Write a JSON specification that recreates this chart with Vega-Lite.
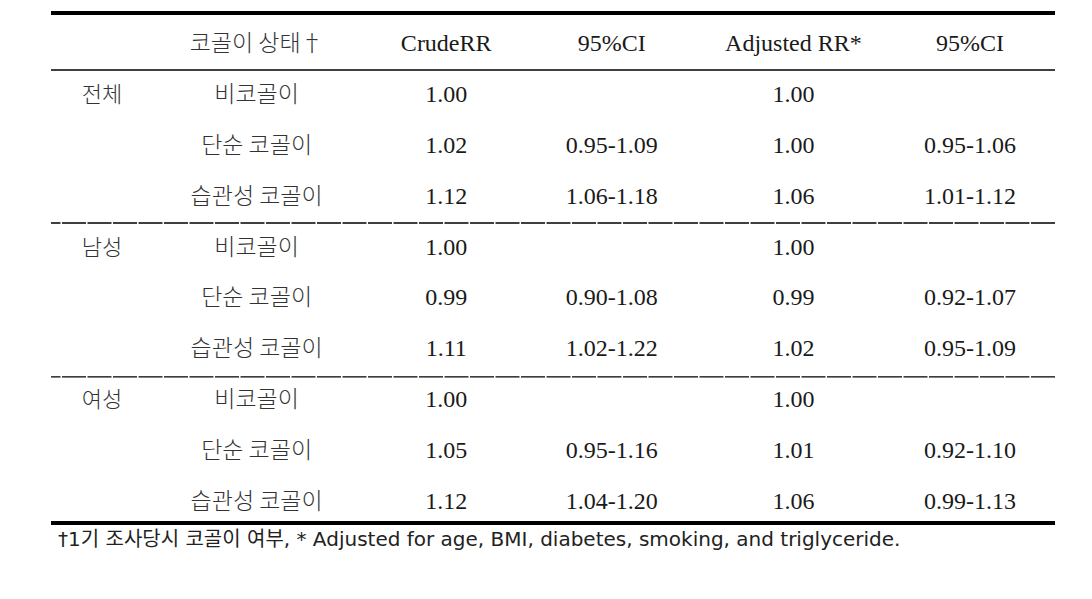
{
  "$schema": "https://vega.github.io/schema/vega-lite/v6.json",
  "width": 1004,
  "height": 510,
  "padding": {"left": 49, "top": 11, "right": 39, "bottom": 20},
  "background": "white",
  "config": {"view": {"stroke": null}},
  "title": {
    "text": "†1기 조사당시 코골이 여부, * Adjusted for age, BMI, diabetes, smoking, and triglyceride.",
    "orient": "bottom",
    "anchor": "start",
    "offset": 5,
    "dx": 9,
    "font": "DejaVu Sans, Noto Sans CJK KR",
    "fontSize": 20,
    "fontWeight": "normal",
    "color": "#222"
  },
  "datasets": {
    "table": [
      {"r": 0, "group": "", "status": "코골이 상태†", "crude": "CrudeRR", "ci1": "95%CI", "adj": "Adjusted RR*", "ci2": "95%CI"},
      {"r": 1, "group": "전체", "status": "비코골이", "crude": "1.00", "ci1": "", "adj": "1.00", "ci2": ""},
      {"r": 2, "group": "", "status": "단순 코골이", "crude": "1.02", "ci1": "0.95-1.09", "adj": "1.00", "ci2": "0.95-1.06"},
      {"r": 3, "group": "", "status": "습관성 코골이", "crude": "1.12", "ci1": "1.06-1.18", "adj": "1.06", "ci2": "1.01-1.12"},
      {"r": 4, "group": "남성", "status": "비코골이", "crude": "1.00", "ci1": "", "adj": "1.00", "ci2": ""},
      {"r": 5, "group": "", "status": "단순 코골이", "crude": "0.99", "ci1": "0.90-1.08", "adj": "0.99", "ci2": "0.92-1.07"},
      {"r": 6, "group": "", "status": "습관성 코골이", "crude": "1.11", "ci1": "1.02-1.22", "adj": "1.02", "ci2": "0.95-1.09"},
      {"r": 7, "group": "여성", "status": "비코골이", "crude": "1.00", "ci1": "", "adj": "1.00", "ci2": ""},
      {"r": 8, "group": "", "status": "단순 코골이", "crude": "1.05", "ci1": "0.95-1.16", "adj": "1.01", "ci2": "0.92-1.10"},
      {"r": 9, "group": "", "status": "습관성 코골이", "crude": "1.12", "ci1": "1.04-1.20", "adj": "1.06", "ci2": "0.99-1.13"}
    ]
  },
  "encoding": {
    "x": {
      "field": "col",
      "type": "nominal",
      "scale": {"type": "point", "domain": ["group", "status", "crude", "ci1", "adj", "ci2"], "padding": 0.3917, "align": 0.375},
      "axis": null
    },
    "y": {
      "field": "r",
      "type": "quantitative",
      "scale": {"domain": [-0.609, 9.411], "reverse": true, "nice": false, "zero": false},
      "axis": null
    },
    "text": {"field": "text"}
  },
  "layer": [
    {
      "data": {"name": "table"},
      "transform": [
        {"fold": ["group", "status", "crude", "ci1", "adj", "ci2"], "as": ["col", "text"]},
        {"filter": "datum.col === 'group'"}
      ],
      "mark": {"type": "text", "font": "Noto Sans CJK KR", "fontSize": 22, "fontWeight": 300, "color": "#333", "baseline": "middle"}
    },
    {
      "data": {"name": "table"},
      "transform": [
        {"fold": ["group", "status", "crude", "ci1", "adj", "ci2"], "as": ["col", "text"]},
        {"filter": "datum.col === 'status'"}
      ],
      "mark": {"type": "text", "font": "Noto Sans CJK KR", "fontSize": 23, "fontWeight": 300, "color": "#333", "baseline": "middle", "dx": -19}
    },
    {
      "data": {"name": "table"},
      "transform": [
        {"fold": ["group", "status", "crude", "ci1", "adj", "ci2"], "as": ["col", "text"]},
        {"filter": "datum.col === 'crude' || datum.col === 'adj'"}
      ],
      "mark": {"type": "text", "font": "Liberation Serif", "fontSize": 24, "color": "#1a1a1a", "baseline": "middle", "dx": -3}
    },
    {
      "data": {"name": "table"},
      "transform": [
        {"fold": ["group", "status", "crude", "ci1", "adj", "ci2"], "as": ["col", "text"]},
        {"filter": "datum.col === 'ci1'"}
      ],
      "mark": {"type": "text", "font": "Liberation Serif", "fontSize": 24, "color": "#1a1a1a", "baseline": "middle", "dx": -11}
    },
    {
      "data": {"name": "table"},
      "transform": [
        {"fold": ["group", "status", "crude", "ci1", "adj", "ci2"], "as": ["col", "text"]},
        {"filter": "datum.col === 'ci2'"}
      ],
      "mark": {"type": "text", "font": "Liberation Serif", "fontSize": 24, "color": "#1a1a1a", "baseline": "middle", "dx": 0}
    },
    {
      "data": {"values": [{"ly": -0.609}, {"ly": 9.411}]},
      "mark": {"type": "rule", "color": "#000", "strokeWidth": 4},
      "encoding": {"y": {"field": "ly", "type": "quantitative"}, "x": null, "text": null}
    },
    {
      "data": {"values": [{"ly": 0.511}]},
      "mark": {"type": "rule", "color": "#000", "strokeWidth": 1.5},
      "encoding": {"y": {"field": "ly", "type": "quantitative"}, "x": null, "text": null}
    },
    {
      "data": {"values": [{"ly": 3.517}, {"ly": 6.542}]},
      "mark": {"type": "rule", "color": "#000", "strokeWidth": 1.3, "strokeDash": [24, 1.5]},
      "encoding": {"y": {"field": "ly", "type": "quantitative"}, "x": null, "text": null}
    }
  ]
}
